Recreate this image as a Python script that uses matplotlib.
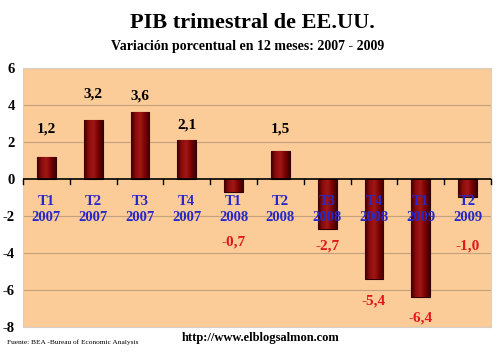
import matplotlib.pyplot as plt
import numpy as np
from matplotlib.colors import LinearSegmentedColormap

trimestres = ["T1", "T2", "T3", "T4", "T1", "T2", "T3", "T4", "T1", "T2"]
anios = ["2007", "2007", "2007", "2007", "2008", "2008", "2008", "2008", "2009", "2009"]
variacion = [1.2, 3.2, 3.6, 2.1, -0.7, 1.5, -2.7, -5.4, -6.4, -1.0]
etiquetas = ["1,2", "3,2", "3,6", "2,1", "-0,7", "1,5", "-2,7", "-5,4", "-6,4", "-1,0"]
pos_etiqueta = [2.7, 4.6, 4.5, 2.9, -3.4, 2.7, -3.6, -6.6, -7.5, -3.6]
yticks = [-8, -6, -4, -2, 0, 2, 4, 6]

serif = "Liberation Serif"
fig = plt.figure(figsize=(5, 3.6), dpi=100)
ax = fig.add_axes([0.046, 0.092, 0.936, 0.719])
ax.set_facecolor("#fbcb98")

x = np.arange(len(variacion))
barras = ax.bar(x, variacion, width=0.4, color="#760000", edgecolor="#300000", linewidth=0.8, zorder=3)

# degradado tipo cilindro en cada barra
cmap = LinearSegmentedColormap.from_list("cil", ["#3a0000", "#8e0c0c", "#a01818", "#7a0000", "#3a0000"])
grad = np.linspace(0, 1, 64).reshape(1, -1)
for b in barras:
    x0, y0 = b.get_x(), b.get_y()
    w, h = b.get_width(), b.get_height()
    im = ax.imshow(grad, cmap=cmap, aspect="auto", extent=[x0, x0 + w, y0, y0 + h], zorder=3.5)
    im.set_clip_path(b)

ax.set_xlim(-0.5, len(variacion) - 0.5)
ax.set_ylim(-8, 6)
ax.set_yticks(yticks)
ax.set_yticklabels([str(v) for v in yticks], fontfamily=serif, fontweight="bold", fontsize=10.5)
ax.tick_params(axis="y", length=0, pad=6)
ax.set_xticks([])
for v in yticks:
    if v != 0:
        ax.axhline(v, color="#c4a27e", linewidth=0.8, zorder=1)

# eje en cero con marcas entre categorias
ax.axhline(0, color="black", linewidth=1.2, zorder=4)
for b in np.arange(-0.5, len(variacion), 1.0):
    ax.plot([b, b], [0, -0.25], color="black", linewidth=1, zorder=4, clip_on=False)

for s in ax.spines.values():
    s.set_color("#d8d0c8")

for i in range(len(variacion)):
    ax.text(i, -1.2, trimestres[i], ha="center", va="center", color="#2828c8",
            fontfamily=serif, fontweight="bold", fontsize=10.5, zorder=5)
    ax.text(i, -2.1, anios[i], ha="center", va="center", color="#2828c8",
            fontfamily=serif, fontweight="bold", fontsize=10.5, zorder=5)
    col = "black" if variacion[i] >= 0 else "#e0181c"
    ax.text(i, pos_etiqueta[i], etiquetas[i], ha="center", va="center", color=col,
            fontfamily=serif, fontweight="bold", fontsize=11, zorder=5)

fig.text(0.505, 0.935, "PIB trimestral de EE.UU.", ha="center", va="center",
         fontfamily=serif, fontweight="bold", fontsize=16)
fig.text(0.495, 0.87, "Variación porcentual en 12 meses: 2007 - 2009", ha="center", va="center",
         fontfamily=serif, fontweight="bold", fontsize=10)
fig.text(0.522, 0.06, "http://www.elblogsalmon.com", ha="center", va="center",
         fontfamily=serif, fontweight="bold", fontsize=9)
fig.text(0.014, 0.05, "Fuente: BEA -Bureau of Economic Analysis", ha="left", va="center",
         fontfamily=serif, fontsize=5.3)

fig.savefig("out.png", dpi=100, facecolor="white")
